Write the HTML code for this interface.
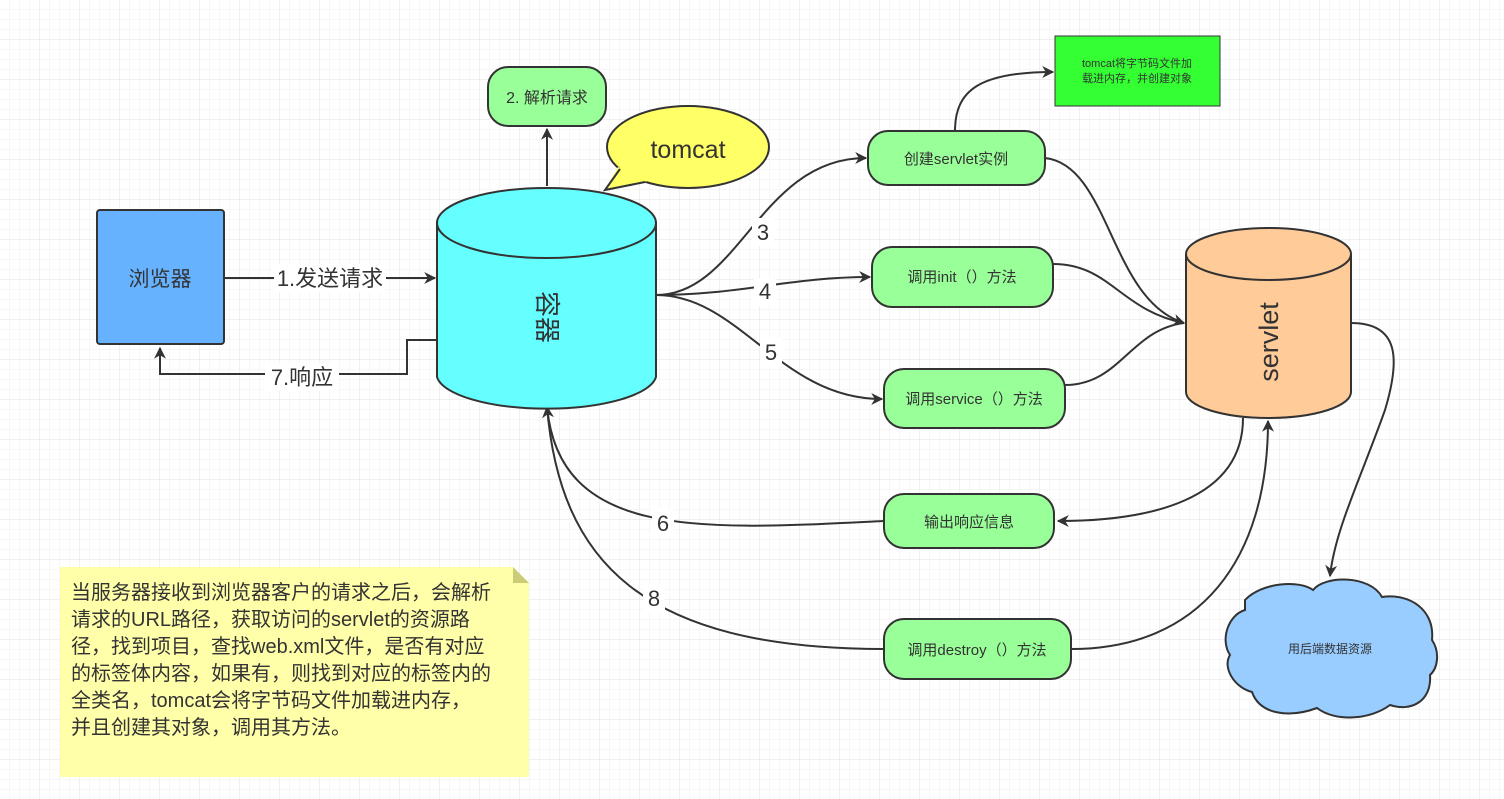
<!DOCTYPE html>
<html><head><meta charset="utf-8"><style>
html,body{margin:0;padding:0;width:1504px;height:799px;overflow:hidden;background:#fff}
svg{display:block}
text{font-family:"Liberation Sans","Noto Sans CJK SC",sans-serif;fill:#333}
</style></head><body>
<svg width="1504" height="799" viewBox="0 0 1504 799" xmlns="http://www.w3.org/2000/svg">
<defs>
<pattern id="g" width="10" height="10" patternUnits="userSpaceOnUse"><path d="M10 0V10H0" fill="none" stroke="#efefef" stroke-width="1"/></pattern>
<pattern id="G" width="40" height="40" patternUnits="userSpaceOnUse"><rect width="40" height="40" fill="url(#g)"/><path d="M40 0V40H0" fill="none" stroke="#e2e2e2" stroke-width="1"/></pattern>
<marker id="a" viewBox="0 0 10 10" refX="9" refY="5" markerWidth="12" markerHeight="12" orient="auto" markerUnits="userSpaceOnUse" ><path d="M0 0L10 5L0 10L3 5Z" fill="#333"/></marker>
</defs>
<rect width="1504" height="799" fill="url(#G)"/>
<g fill="none" stroke="#333" stroke-width="2">
<path d="M224 278H435" marker-end="url(#a)"/>
<path d="M437 340H407V374H160V348" marker-end="url(#a)"/>
<path d="M547 186V129" marker-end="url(#a)"/>
<path d="M656 295C740 295 760 158 866 158" marker-end="url(#a)"/>
<path d="M656 295C740 295 790 277 870 277" marker-end="url(#a)"/>
<path d="M656 295C740 295 780 399 882 399" marker-end="url(#a)"/>
<path d="M1045 158C1110 165 1110 300 1184 323" marker-end="url(#a)"/>
<path d="M1053 264C1110 264 1120 310 1184 323"/>
<path d="M1065 385C1120 385 1130 330 1184 323"/>
<path d="M1243 418C1243 500 1150 521 1058 521" marker-end="url(#a)"/>
<path d="M1071 649C1200 649 1268 560 1268 421" marker-end="url(#a)"/>
<path d="M884 521C700 530 560 540 547 407" marker-end="url(#a)"/>
<path d="M884 649C640 649 560 560 547 407"/>
<path d="M955 131C955 90 980 72 1053 72" marker-end="url(#a)"/>
<path d="M1351 323C1400 323 1400 360 1385 410C1360 480 1335 530 1330 576" marker-end="url(#a)"/>
</g>
<g font-size="22" text-anchor="middle">
<rect x="274" y="264" width="112" height="28" fill="#fff"/>
<text x="330" y="286">1.发送请求</text>
<rect x="265" y="363" width="74" height="28" fill="#fff"/>
<text x="302" y="385">7.响应</text>
<rect x="752" y="218" width="22" height="28" fill="#fff"/><text x="763" y="240">3</text>
<rect x="754" y="278" width="22" height="28" fill="#fff"/><text x="765" y="299">4</text>
<rect x="760" y="338" width="22" height="28" fill="#fff"/><text x="771" y="360">5</text>
<rect x="652" y="509" width="22" height="28" fill="#fff"/><text x="663" y="531">6</text>
<rect x="643" y="584" width="22" height="28" fill="#fff"/><text x="654" y="606">8</text>
</g>
<rect x="97" y="210" width="127" height="134" rx="3" fill="#66b2ff" stroke="#333" stroke-width="2"/>
<text x="160" y="286" font-size="21" text-anchor="middle">浏览器</text>
<path d="M437 223V377A110 35 0 0 0 656 377V223" fill="#66ffff" stroke="#333" stroke-width="2"/>
<ellipse cx="546.5" cy="223" rx="109.5" ry="35" fill="#66ffff" stroke="#333" stroke-width="2"/>
<text x="0" y="0" font-size="26" text-anchor="middle" transform="translate(538,317) rotate(90)">容器</text>
<rect x="488" y="67" width="118" height="59" rx="20" fill="#99ff99" stroke="#333" stroke-width="2"/>
<text x="547" y="103" font-size="16" text-anchor="middle">2. 解析请求</text>
<!-- tomcat bubble -->
<ellipse cx="688" cy="147" rx="81" ry="41" fill="#ffff66" stroke="#333" stroke-width="2"/>
<polygon points="618,167 605,190 648,181" fill="#ffff66"/>
<polyline points="620,169 605,190 645,182" fill="none" stroke="#333" stroke-width="2"/>
<text x="688" y="158" font-size="25" text-anchor="middle">tomcat</text>
<g fill="#99ff99" stroke="#333" stroke-width="2">
<rect x="868" y="131" width="177" height="54" rx="20"/>
<rect x="872" y="247" width="181" height="60" rx="20"/>
<rect x="884" y="369" width="181" height="59" rx="20"/>
<rect x="884" y="494" width="170" height="54" rx="20"/>
<rect x="884" y="619" width="187" height="60" rx="20"/>
</g>
<g font-size="15" text-anchor="middle">
<text x="956" y="164">创建servlet实例</text>
<text x="962" y="282">调用init（）方法</text>
<text x="974" y="404">调用service（）方法</text>
<text x="969" y="527">输出响应信息</text>
<text x="977" y="655">调用destroy（）方法</text>
</g>
<rect x="1055" y="36" width="165" height="70" fill="#33ff33" stroke="#333" stroke-width="1"/>
<text x="1137" y="67" font-size="11" text-anchor="middle">tomcat将字节码文件加</text>
<text x="1137" y="82" font-size="11" text-anchor="middle">载进内存，并创建对象</text>
<path d="M1186 254V392A82.5 26 0 0 0 1351 392V254" fill="#ffcc99" stroke="#333" stroke-width="2"/>
<ellipse cx="1268.5" cy="254" rx="82.5" ry="26" fill="#ffcc99" stroke="#333" stroke-width="2"/>
<text x="0" y="0" font-size="27" text-anchor="middle" transform="translate(1278,342) rotate(-90)">servlet</text>
<path d="M1245 600C1262 582 1300 580 1313 590C1325 575 1370 575 1382 597C1410 593 1435 610 1432 640C1440 652 1438 668 1430 675C1432 702 1410 712 1390 705C1370 720 1335 722 1317 708C1290 718 1260 715 1252 692C1235 688 1222 668 1230 655C1220 640 1228 615 1245 610Z" fill="#99ccff" stroke="#333" stroke-width="2"/>
<text x="1330" y="653" font-size="12" text-anchor="middle">用后端数据资源</text>
<path d="M60 567H513L529 583V777H60Z" fill="#ffffaa"/>
<path d="M513 567L529 583H513Z" fill="#cccc77"/>
<g font-size="20">
<text x="71" y="599">当服务器接收到浏览器客户的请求之后，会解析</text>
<text x="71" y="626">请求的URL路径，获取访问的servlet的资源路</text>
<text x="71" y="653">径，找到项目，查找web.xml文件，是否有对应</text>
<text x="71" y="680">的标签体内容，如果有，则找到对应的标签内的</text>
<text x="71" y="707">全类名，tomcat会将字节码文件加载进内存，</text>
<text x="71" y="734">并且创建其对象，调用其方法。</text>
</g>
</svg>
</body></html>
